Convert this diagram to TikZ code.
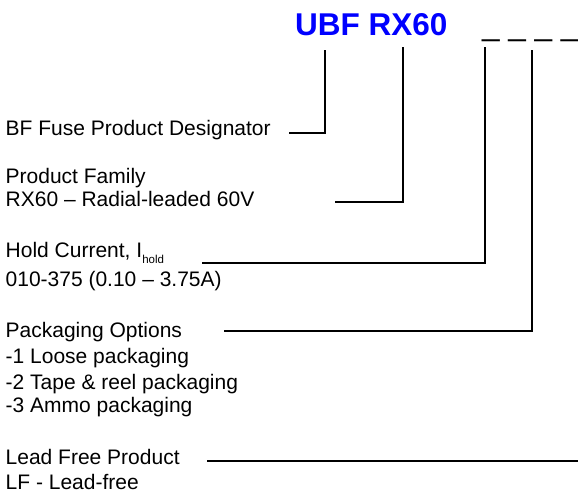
\documentclass[tikz,border=0pt]{standalone}
\usepackage{fontspec}
\setmainfont{Liberation Sans}
\definecolor{ubfblue}{RGB}{0,0,255}
\tikzset{
  txt/.style={anchor=base west, inner sep=0pt, font=\fontsize{21}{25}\selectfont},
  tie/.style={line width=1.3pt, black},
}
\begin{document}
\begin{tikzpicture}[x=1pt, y=-1pt]
  \useasboundingbox (0,0) rectangle (578,493);
  % part number and blank fields
  \node[anchor=base west, inner sep=0pt, text=ubfblue, font=\fontsize{31.5}{36}\selectfont\bfseries] (title) at (295,35) {UBF RX60};
  \node[anchor=base west, inner sep=0pt, font=\fontsize{31.5}{36}\selectfont] (blanks) at (482,35) {\textunderscore\ \textunderscore\ \textunderscore\ \textunderscore};
  % field descriptions
  \node[txt] (bf) at (5.5,135) {BF Fuse Product Designator};
  \node[txt] (fam) at (5.5,183) {Product Family};
  \node[txt] (famrx) at (5.5,206) {RX60 – Radial-leaded 60V};
  \node[txt] (hold) at (5.5,257) {Hold Current, I\raisebox{-6pt}{\fontsize{11.5}{12}\selectfont hold}};
  \node[txt] (holdrng) at (5.5,286) {010-375 (0.10 – 3.75A)};
  \node[txt] (pack) at (5.5,337) {Packaging Options};
  \node[txt] (packa) at (5.5,363) {-1 Loose packaging};
  \node[txt] (packb) at (5.5,389) {-2 Tape \& reel packaging};
  \node[txt] (packc) at (5.5,412) {-3 Ammo packaging};
  \node[txt] (lf) at (5.5,464) {Lead Free Product};
  \node[txt] (lfcode) at (5.5,489) {LF - Lead-free};
  % coordinates
  \coordinate (bfl) at (289,133);
  \coordinate (faml) at (335,202);
  \coordinate (holdl) at (202,263);
  \coordinate (packl) at (224,331);
  \coordinate (lfl) at (207,461);
  \coordinate (bftop) at (325,50);
  \coordinate (famtop) at (403,47);
  \coordinate (holdtop) at (485,47);
  \coordinate (packtop) at (532,50);
  \coordinate (lfend) at (578,461);
  % leader lines
  \draw[tie] (bfl) -| (bftop);
  \draw[tie] (faml) -| (famtop);
  \draw[tie] (holdl) -| (holdtop);
  \draw[tie] (packl) -| (packtop);
  \draw[tie] (lfl) -- (lfend);
\end{tikzpicture}
\end{document}
